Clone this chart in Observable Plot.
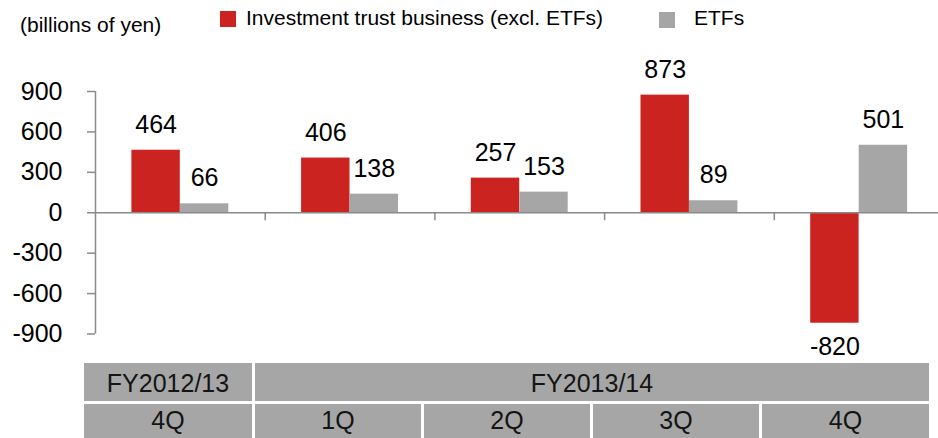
<!DOCTYPE html>
<html>
<head>
<meta charset="utf-8">
<script src="https://cdn.jsdelivr.net/npm/d3@7"></script>
<script src="https://cdn.jsdelivr.net/npm/@observablehq/plot@0.6"></script>
<style>
  html, body { margin: 0; padding: 0; background: #fff; overflow: hidden; }
  #wrap { position: relative; width: 938px; height: 438px; overflow: hidden;
          font-family: "Liberation Sans", Arial, sans-serif; color: #000; }
  #chart { position: absolute; left: 0; top: 0; max-width: none !important; }
  .title { position: absolute; left: 20px; top: 13px; font-size: 21px; line-height: 24px; white-space: nowrap; }
  .lg-sw { position: absolute; width: 16px; height: 16px; }
  .lg-tx { position: absolute; font-size: 21px; line-height: 24px; white-space: nowrap; top: 6px; }
  #table { position: absolute; left: 84px; top: 363px; display: grid;
           grid-template-columns: 168px 166px 166px 166px 167px;
           grid-template-rows: 38px 40px; gap: 3px; }
  .cell { background: #a6a6a6; color: #141414; font-size: 25px; text-align: center; white-space: nowrap; }
  .r1 { line-height: 38px; padding-top: 1px; box-sizing: border-box; }
  .r2 { line-height: 30px; padding-top: 1px; box-sizing: border-box; }
</style>
</head>
<body>
<div id="wrap"></div>
<script>
// ---- data ----
const unitLabel = "(billions of yen)";
const seriesNames = ["Investment trust business (excl. ETFs)", "ETFs"];
const seriesColors = ["#ca2320", "#a6a6a6"];
const fiscalYears = ["FY2012/13", "FY2013/14"];
const fiscalYearSpans = [1, 4];
const quarters = ["4Q", "1Q", "2Q", "3Q", "4Q"];
const investmentTrust = [464, 406, 257, 873, -820];
const etfs = [66, 138, 153, 89, 501];
const yTicks = [-900, -600, -300, 0, 300, 600, 900];

// ---- layout helpers ----
const wrap = document.getElementById("wrap");
const axisColor = "#8a8a8a";

const rowsInv = investmentTrust.map((v, i) => ({i, v}));
const rowsEtf = etfs.map((v, i) => ({i, v}));
const boundaries = quarters.map((q, i) => i).filter(i => i > 0);

const chart = Plot.plot({
  width: 944,
  height: 360,
  marginLeft: 95,
  marginRight: 0.5,
  marginTop: 91,
  marginBottom: 26.5,
  style: {fontFamily: '"Liberation Sans", Arial, sans-serif', fontSize: "25px", color: "#000", background: "transparent", maxWidth: "none"},
  x: {domain: [0, quarters.length], axis: null},
  y: {domain: [d3.min(yTicks), d3.max(yTicks)], axis: null},
  marks: [
    Plot.rectY(rowsInv, {x1: "i", x2: d => d.i + 1, y1: 0, y2: "v", fill: seriesColors[0], insetLeft: 36.4, insetRight: 84.9}),
    Plot.rectY(rowsEtf, {x1: "i", x2: d => d.i + 1, y1: 0, y2: "v", fill: seriesColors[1], insetLeft: 84.9, insetRight: 36.4}),
    Plot.ruleY([0], {stroke: axisColor, strokeWidth: 1.5}),
    Plot.ruleX([0], {stroke: axisColor, strokeWidth: 1.5}),
    Plot.ruleX(boundaries, {y1: 0, y2: 0, insetBottom: -8, stroke: axisColor, strokeWidth: 1.5}),
    Plot.axisY(yTicks, {tickSize: 8, tickPadding: 25, stroke: axisColor, strokeWidth: 1.5, fill: "#000",
      fontSize: 25, tickFormat: d => String(d), label: null}),
    Plot.text(rowsInv.filter(d => d.v >= 0), {x: d => d.i + 0.5, y: "v", text: d => String(d.v), dx: -24.25, dy: -17.5, lineAnchor: "bottom", fontSize: 25, fill: "#000"}),
    Plot.text(rowsInv.filter(d => d.v < 0), {x: d => d.i + 0.5, y: "v", text: d => String(d.v), dx: -24.25, dy: 14, lineAnchor: "top", fontSize: 25, fill: "#000"}),
    Plot.text(rowsEtf, {x: d => d.i + 0.5, y: "v", text: d => String(d.v), dx: 24.25, dy: -17.5, lineAnchor: "bottom", fontSize: 25, fill: "#000"})
  ]
});
chart.id = "chart";
wrap.appendChild(chart);

// title
const t = document.createElement("div");
t.className = "title";
t.textContent = unitLabel;
wrap.appendChild(t);

// legend
const legendPos = [{sw: 220, tx: 246, top: 11}, {sw: 659, tx: 694, top: 11.5}];
seriesNames.forEach((name, k) => {
  const sw = document.createElement("div");
  sw.className = "lg-sw";
  sw.style.left = legendPos[k].sw + "px";
  sw.style.top = legendPos[k].top + "px";
  sw.style.background = seriesColors[k];
  wrap.appendChild(sw);
  const tx = document.createElement("div");
  tx.className = "lg-tx";
  tx.style.left = legendPos[k].tx + "px";
  tx.textContent = name;
  wrap.appendChild(tx);
});

// category table
const table = document.createElement("div");
table.id = "table";
let col = 1;
fiscalYears.forEach((fy, k) => {
  const c = document.createElement("div");
  c.className = "cell r1";
  c.style.gridRow = "1";
  c.style.gridColumn = col + " / span " + fiscalYearSpans[k];
  c.textContent = fy;
  col += fiscalYearSpans[k];
  table.appendChild(c);
});
quarters.forEach((q, i) => {
  const c = document.createElement("div");
  c.className = "cell r2";
  c.style.gridRow = "2";
  c.style.gridColumn = String(i + 1);
  c.textContent = q;
  table.appendChild(c);
});
wrap.appendChild(table);
</script>
</body>
</html>
